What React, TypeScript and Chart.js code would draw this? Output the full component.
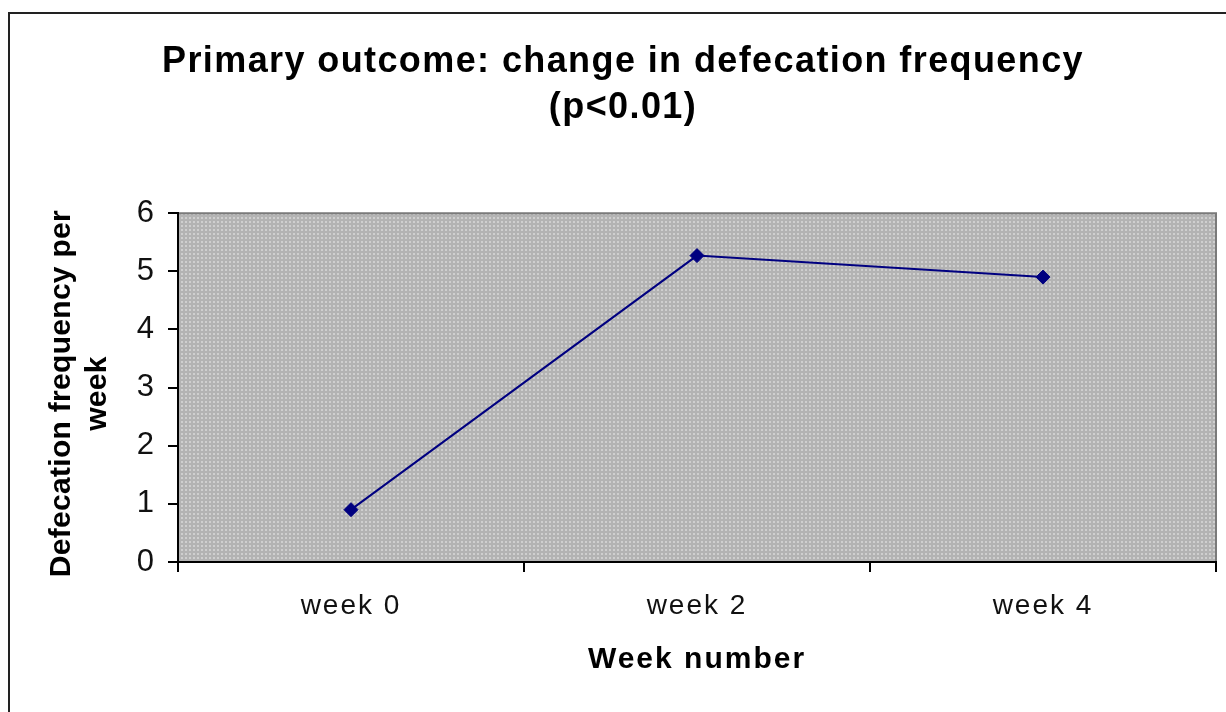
import React, { useEffect, useRef } from 'react';
import { Chart, registerables } from 'chart.js';

Chart.register(...registerables);

// ---- data ----
const categories: string[] = ['week 0', 'week 2', 'week 4'];
const defecationFrequency: number[] = [0.9, 5.27, 4.9];
const yTickValues: number[] = [0, 1, 2, 3, 4, 5, 6];
const titleLines: string[] = ['Primary outcome: change in defecation frequency', '(p<0.01)'];
const xAxisTitle = 'Week number';
const yAxisTitleLines: string[] = ['Defecation frequency per', 'week'];

const FONT = "'Liberation Sans', Arial, Helvetica, sans-serif";

function makePattern(): CanvasPattern | string {
  const c = document.createElement('canvas');
  c.width = 4;
  c.height = 4;
  const p = c.getContext('2d');
  if (!p) return '#bebebe';
  p.fillStyle = '#b3b3b3';
  p.fillRect(0, 0, 4, 4);
  p.fillStyle = '#cfcfcf';
  p.fillRect(1, 1, 2, 2);
  const main = document.createElement('canvas').getContext('2d');
  return (main && main.createPattern(c, 'repeat')) || '#bebebe';
}

function patchDraw(obj: any, method: string, spacing: string, dy = 0) {
  const key = '__ls_' + method;
  if (!obj || obj[key]) return;
  const orig = obj[method];
  obj[method] = function (...args: any[]) {
    const c = this.ctx as any;
    c.save();
    c.letterSpacing = spacing;
    if (dy) c.translate(0, dy);
    const r = orig.apply(this, args);
    c.restore();
    return r;
  };
  obj[key] = true;
}

export default function App() {
  const canvasRef = useRef<HTMLCanvasElement | null>(null);

  useEffect(() => {
    const canvas = canvasRef.current;
    if (!canvas) return;
    const pattern = makePattern();

    const decorPlugin = {
      id: 'decor',
      beforeDraw(chart: any) {
        const ctx = chart.ctx as any;
        ctx.letterSpacing = '2px';
        patchDraw(chart.titleBlock, 'draw', '1.4px');
        patchDraw(chart.scales.y, 'drawLabels', '0px');
        patchDraw(chart.scales.y, 'drawTitle', '0.3px', 6);
        const a = chart.chartArea;
        ctx.save();
        ctx.fillStyle = pattern;
        ctx.fillRect(a.left, a.top, a.right - a.left, a.bottom - a.top);
        ctx.strokeStyle = '#7a7a7a';
        ctx.lineWidth = 2;
        ctx.beginPath();
        ctx.moveTo(a.left, a.top);
        ctx.lineTo(a.right, a.top);
        ctx.lineTo(a.right, a.bottom);
        ctx.stroke();
        ctx.restore();
      },
      afterDraw(chart: any) {
        const ctx = chart.ctx;
        ctx.save();
        ctx.strokeStyle = '#222';
        ctx.lineWidth = 2;
        ctx.strokeRect(9, 13, 1400, 900);
        ctx.restore();
      },
    };

    const chart = new Chart(canvas, {
      type: 'line',
      data: {
        labels: categories,
        datasets: [
          {
            data: defecationFrequency,
            borderColor: '#000080',
            backgroundColor: '#000080',
            borderWidth: 2,
            pointStyle: 'rectRot',
            pointRadius: 7,
            pointBorderWidth: 1,
            pointBackgroundColor: '#000080',
            pointBorderColor: '#000080',
            tension: 0,
            fill: false,
          },
        ],
      },
      options: {
        responsive: false,
        animation: false,
        devicePixelRatio: 1,
        layout: { padding: { left: 30, right: 10, top: 0, bottom: 0 } },
        plugins: {
          legend: { display: false },
          tooltip: { enabled: false },
          title: {
            display: true,
            text: titleLines,
            color: '#000',
            font: { family: FONT, size: 36, weight: 'bold', lineHeight: 1.28 },
            padding: { top: 39, bottom: 82 },
          },
        },
        scales: {
          x: {
            type: 'category',
            offset: true,
            grid: {
              offset: true,
              drawOnChartArea: false,
              drawTicks: true,
              tickLength: 10,
              color: '#000',
              lineWidth: 2,
            },
            border: { display: true, color: '#000', width: 2 },
            ticks: {
              color: '#111',
              font: { family: FONT, size: 28 },
              padding: 17,
              maxRotation: 0,
              autoSkip: false,
            },
            title: {
              display: true,
              text: xAxisTitle,
              color: '#000',
              font: { family: FONT, size: 30, weight: 'bold', lineHeight: 1.2 },
              padding: { top: 0, bottom: 34 },
            },
            afterFit(s: any) {
              s.height = 150;
            },
          },
          y: {
            type: 'linear',
            min: 0,
            max: 6,
            grid: {
              drawOnChartArea: false,
              drawTicks: true,
              tickLength: 10,
              color: '#000',
              lineWidth: 2,
            },
            border: { display: true, color: '#000', width: 2 },
            ticks: {
              color: '#111',
              font: { family: FONT, size: 31 },
              padding: 14,
              autoSkip: false,
            },
            afterBuildTicks(s: any) {
              s.ticks = yTickValues.map((v) => ({ value: v }));
            },
            title: {
              display: true,
              text: yAxisTitleLines,
              color: '#000',
              font: { family: FONT, size: 30, weight: 'bold', lineHeight: 1.2 },
              padding: { top: 14, bottom: 0 },
            },
            afterFit(s: any) {
              s.width = 148;
            },
          },
        },
      } as any,
      plugins: [decorPlugin],
    });

    return () => {
      chart.destroy();
    };
  }, []);

  return (
    <div
      style={{
        position: 'fixed',
        left: 0,
        top: 0,
        width: 1226,
        height: 712,
        overflow: 'hidden',
        background: '#fff',
      }}
    >
      <canvas ref={canvasRef} width={1226} height={712} style={{ display: 'block', width: 1226, height: 712 }} />
    </div>
  );
}
